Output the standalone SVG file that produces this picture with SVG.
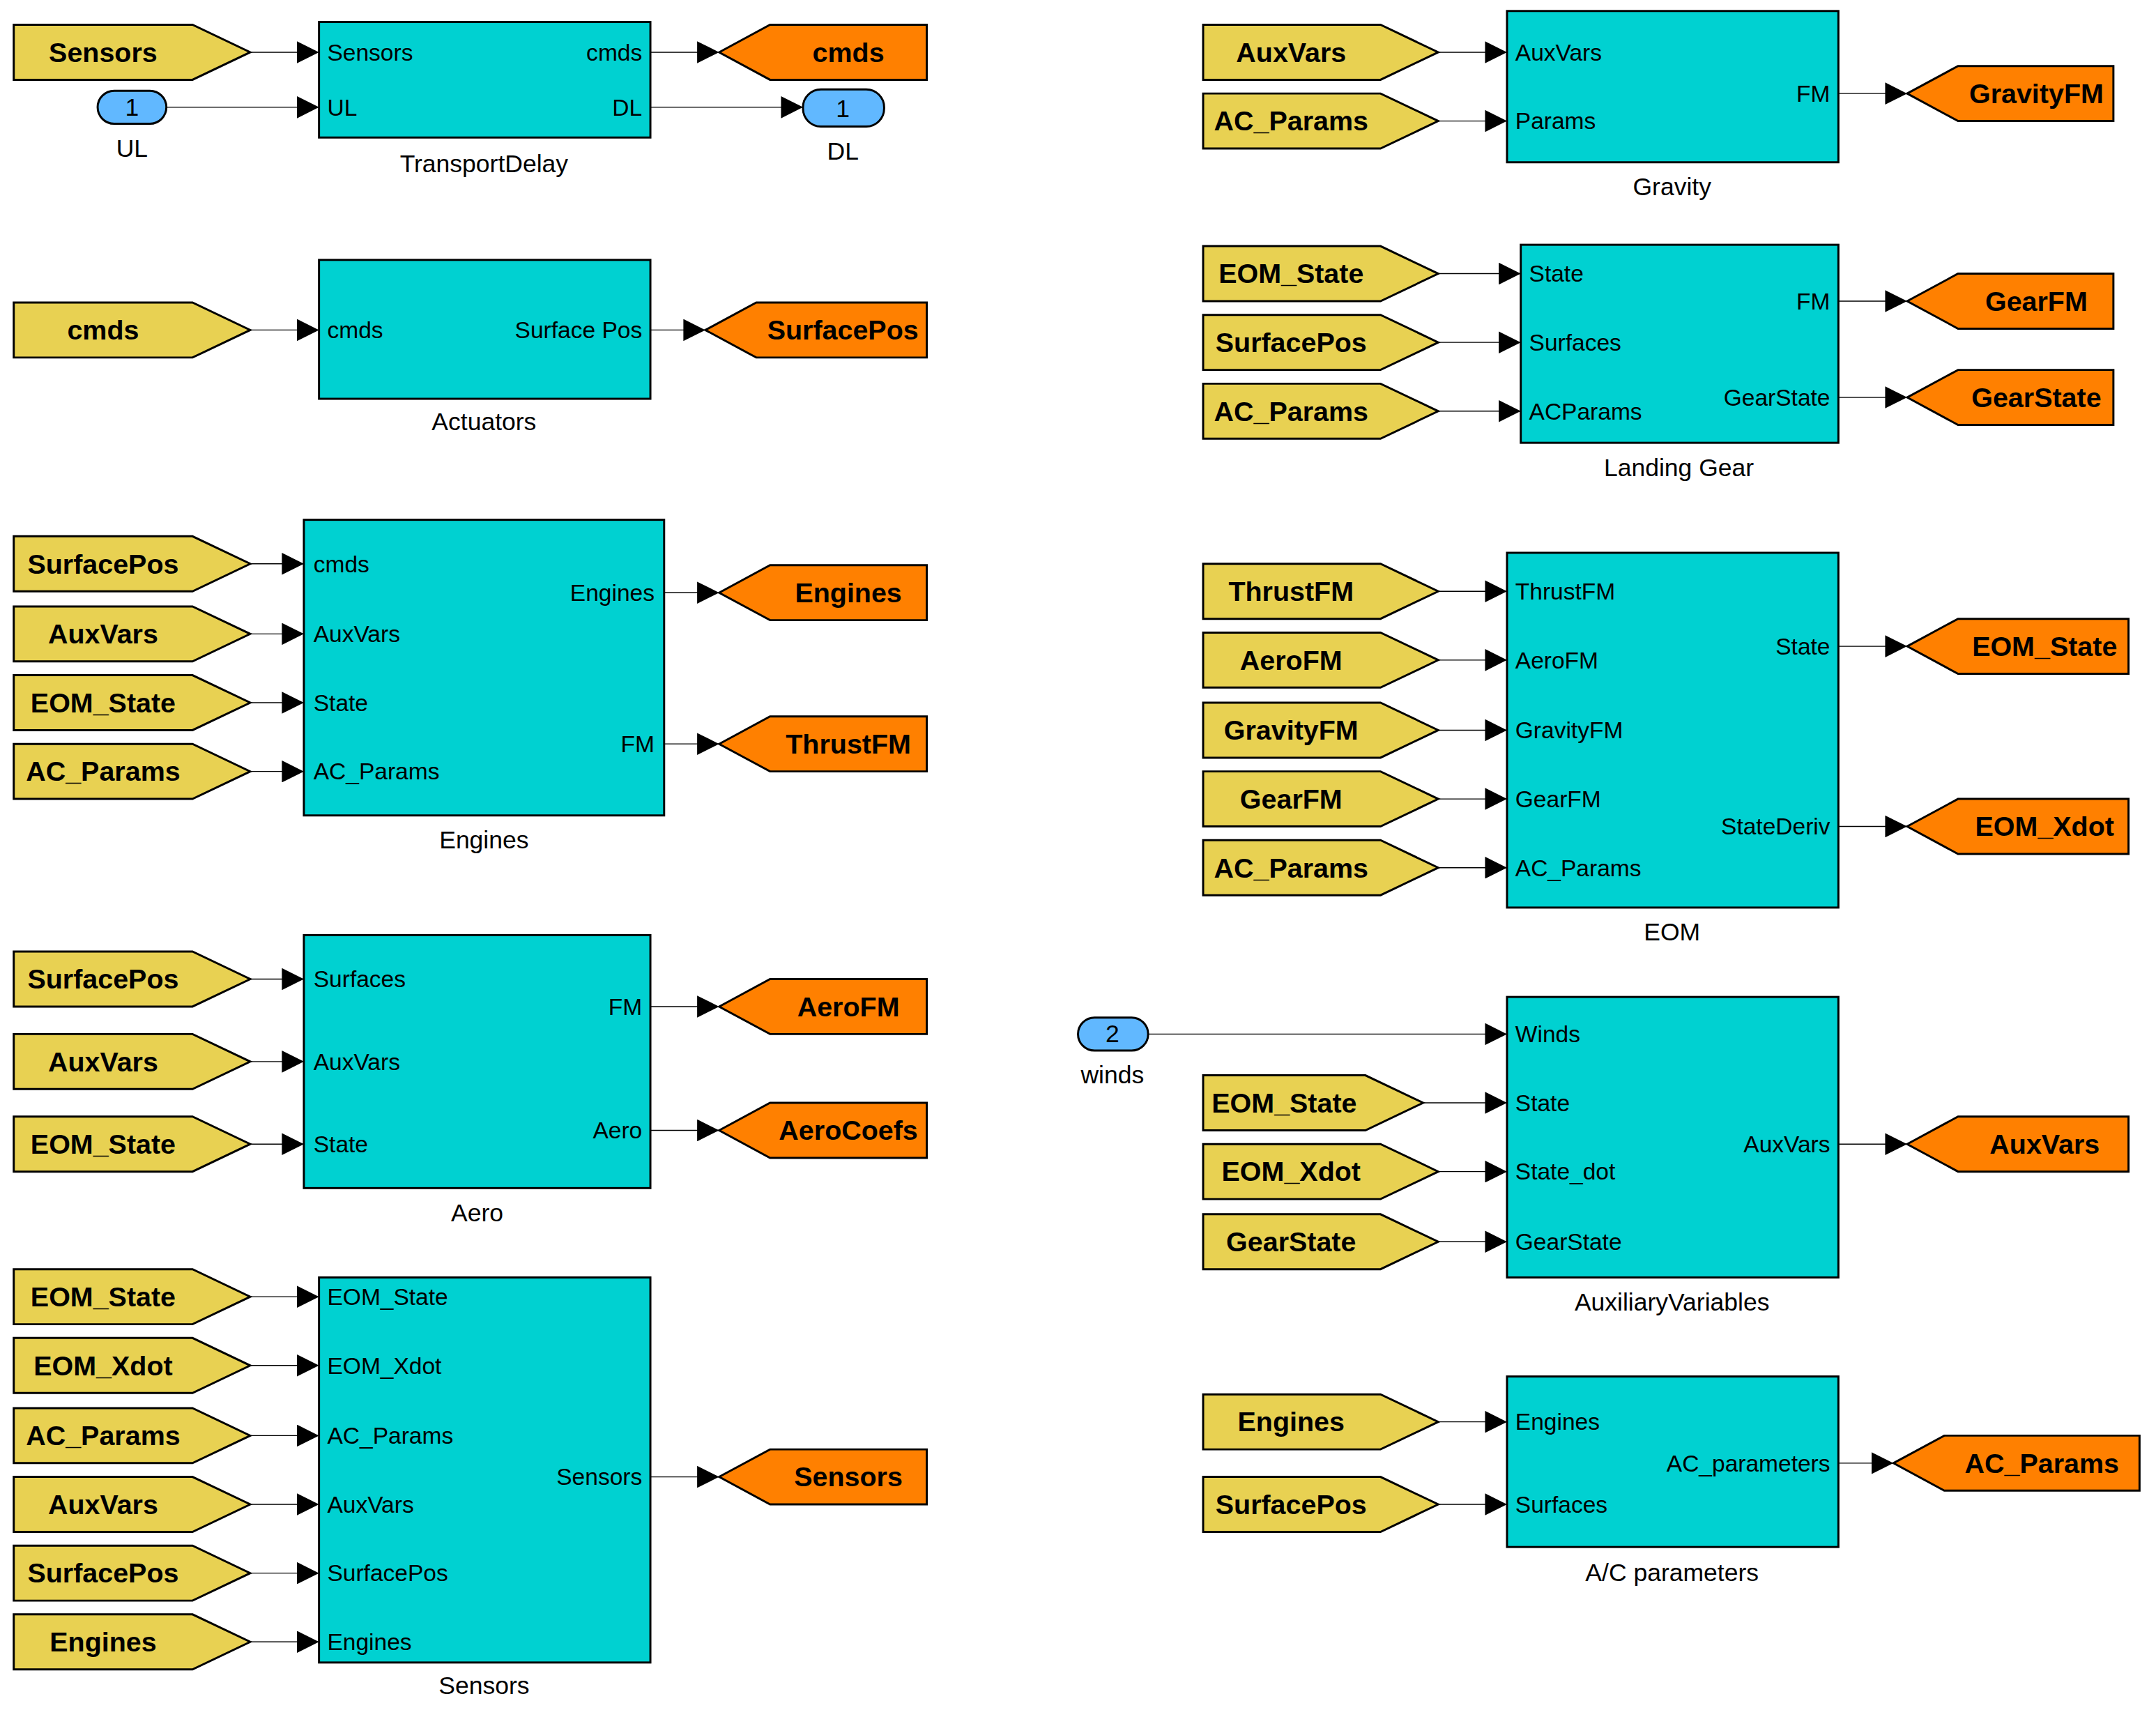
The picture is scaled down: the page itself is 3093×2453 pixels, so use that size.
<svg xmlns="http://www.w3.org/2000/svg" width="3093" height="2453" viewBox="0 0 3093 2453">
<style>
.blk{fill:#00d1d1;stroke:#000;stroke-width:1.5}
.yt{fill:#e8d152;stroke:#000;stroke-width:1.5}
.ot{fill:#ff8000;stroke:#000;stroke-width:1.5}
.ip{fill:#61b8ff;stroke:#000;stroke-width:1.5}
.w{stroke:#000;stroke-width:0.7;fill:none;marker-end:url(#ah)}
text{font-family:"Liberation Sans",Arial,sans-serif;fill:#000}
.pl{font-size:17px}
.pr{font-size:17px;text-anchor:end}
.tg{font-size:20px;font-weight:bold;text-anchor:middle}
.nm{font-size:18px;text-anchor:middle}
.num{font-size:18px;text-anchor:middle}
</style>
<defs>
<marker id="ah" markerUnits="userSpaceOnUse" markerWidth="16" markerHeight="16" viewBox="0 0 16 16" refX="16" refY="8" orient="auto"><path d="M0,0 L16,8 L0,16 Z" fill="#000"/></marker>
</defs>
<rect width="3093" height="2453" fill="#fff"/>
<g transform="scale(1.9726)">
<g id="connectors">
<line class="w" x1="182" y1="38" x2="232" y2="38"/>
<line class="w" x1="121" y1="78" x2="232" y2="78"/>
<line class="w" x1="473" y1="38" x2="523" y2="38"/>
<line class="w" x1="473" y1="78" x2="584" y2="78"/>
<line class="w" x1="182" y1="240" x2="232" y2="240"/>
<line class="w" x1="473" y1="240" x2="513" y2="240"/>
<line class="w" x1="182" y1="410" x2="221" y2="410"/>
<line class="w" x1="182" y1="461" x2="221" y2="461"/>
<line class="w" x1="182" y1="511" x2="221" y2="511"/>
<line class="w" x1="182" y1="561" x2="221" y2="561"/>
<line class="w" x1="483" y1="431" x2="523" y2="431"/>
<line class="w" x1="483" y1="541" x2="523" y2="541"/>
<line class="w" x1="182" y1="712" x2="221" y2="712"/>
<line class="w" x1="182" y1="772" x2="221" y2="772"/>
<line class="w" x1="182" y1="832" x2="221" y2="832"/>
<line class="w" x1="473" y1="732" x2="523" y2="732"/>
<line class="w" x1="473" y1="822" x2="523" y2="822"/>
<line class="w" x1="182" y1="943" x2="232" y2="943"/>
<line class="w" x1="182" y1="993" x2="232" y2="993"/>
<line class="w" x1="182" y1="1044" x2="232" y2="1044"/>
<line class="w" x1="182" y1="1094" x2="232" y2="1094"/>
<line class="w" x1="182" y1="1144" x2="232" y2="1144"/>
<line class="w" x1="182" y1="1194" x2="232" y2="1194"/>
<line class="w" x1="473" y1="1074" x2="523" y2="1074"/>
<line class="w" x1="1046" y1="38" x2="1096" y2="38"/>
<line class="w" x1="1046" y1="88" x2="1096" y2="88"/>
<line class="w" x1="1337" y1="68" x2="1387" y2="68"/>
<line class="w" x1="1046" y1="199" x2="1106" y2="199"/>
<line class="w" x1="1046" y1="249" x2="1106" y2="249"/>
<line class="w" x1="1046" y1="299" x2="1106" y2="299"/>
<line class="w" x1="1337" y1="219" x2="1387" y2="219"/>
<line class="w" x1="1337" y1="289" x2="1387" y2="289"/>
<line class="w" x1="1046" y1="430" x2="1096" y2="430"/>
<line class="w" x1="1046" y1="480" x2="1096" y2="480"/>
<line class="w" x1="1046" y1="531" x2="1096" y2="531"/>
<line class="w" x1="1046" y1="581" x2="1096" y2="581"/>
<line class="w" x1="1046" y1="631" x2="1096" y2="631"/>
<line class="w" x1="1337" y1="470" x2="1387" y2="470"/>
<line class="w" x1="1337" y1="601" x2="1387" y2="601"/>
<line class="w" x1="835" y1="752" x2="1096" y2="752"/>
<line class="w" x1="1035" y1="802" x2="1096" y2="802"/>
<line class="w" x1="1046" y1="852" x2="1096" y2="852"/>
<line class="w" x1="1046" y1="903" x2="1096" y2="903"/>
<line class="w" x1="1337" y1="832" x2="1387" y2="832"/>
<line class="w" x1="1046" y1="1034" x2="1096" y2="1034"/>
<line class="w" x1="1046" y1="1094" x2="1096" y2="1094"/>
<line class="w" x1="1337" y1="1064" x2="1377" y2="1064"/>
</g>

<g id="TransportDelay"><rect class="blk" x="232" y="16" width="241" height="84"/>
<text class="pl" x="238" y="44">Sensors</text><text class="pl" x="238" y="84">UL</text>
<text class="pr" x="467" y="44">cmds</text><text class="pr" x="467" y="84">DL</text>
<text class="nm" x="352" y="125">TransportDelay</text></g>
<g id="from_Sensors_1"><path class="yt" d="M10,18 H140 L182,38 L140,58 H10 Z"/><text class="tg" x="75" y="45">Sensors</text></g>
<g id="in_UL"><rect class="ip" x="71" y="66" width="50" height="24" rx="12"/><text class="num" x="96" y="84">1</text><text class="nm" x="96" y="114">UL</text></g>
<g id="goto_cmds"><path class="ot" d="M523,38 L560,18 H674 V58 H560 Z"/><text class="tg" x="617" y="45">cmds</text></g>
<g id="out_DL"><rect class="ip" x="584" y="65" width="59" height="27" rx="13"/><text class="num" x="613" y="85">1</text><text class="nm" x="613" y="116">DL</text></g>

<g id="Actuators"><rect class="blk" x="232" y="189" width="241" height="101"/>
<text class="pl" x="238" y="246">cmds</text><text class="pr" x="467" y="246">Surface Pos</text>
<text class="nm" x="352" y="313">Actuators</text></g>
<g id="from_cmds"><path class="yt" d="M10,220 H140 L182,240 L140,260 H10 Z"/><text class="tg" x="75" y="247">cmds</text></g>
<g id="goto_SurfacePos"><path class="ot" d="M513,240 L550,220 H674 V260 H550 Z"/><text class="tg" x="613" y="247">SurfacePos</text></g>

<g id="Engines"><rect class="blk" x="221" y="378" width="262" height="215"/>
<text class="pl" x="228" y="416">cmds</text><text class="pl" x="228" y="467">AuxVars</text><text class="pl" x="228" y="517">State</text><text class="pl" x="228" y="567">AC_Params</text>
<text class="pr" x="476" y="437">Engines</text><text class="pr" x="476" y="547">FM</text>
<text class="nm" x="352" y="617">Engines</text></g>
<g id="from_SurfacePos_E"><path class="yt" d="M10,390 H140 L182,410 L140,430 H10 Z"/><text class="tg" x="75" y="417">SurfacePos</text></g>
<g id="from_AuxVars_E"><path class="yt" d="M10,441 H140 L182,461 L140,481 H10 Z"/><text class="tg" x="75" y="468">AuxVars</text></g>
<g id="from_EOM_State_E"><path class="yt" d="M10,491 H140 L182,511 L140,531 H10 Z"/><text class="tg" x="75" y="518">EOM_State</text></g>
<g id="from_AC_Params_E"><path class="yt" d="M10,541 H140 L182,561 L140,581 H10 Z"/><text class="tg" x="75" y="568">AC_Params</text></g>
<g id="goto_Engines"><path class="ot" d="M523,431 L560,411 H674 V451 H560 Z"/><text class="tg" x="617" y="438">Engines</text></g>
<g id="goto_ThrustFM"><path class="ot" d="M523,541 L560,521 H674 V561 H560 Z"/><text class="tg" x="617" y="548">ThrustFM</text></g>

<g id="Aero"><rect class="blk" x="221" y="680" width="252" height="184"/>
<text class="pl" x="228" y="718">Surfaces</text><text class="pl" x="228" y="778">AuxVars</text><text class="pl" x="228" y="838">State</text>
<text class="pr" x="467" y="738">FM</text><text class="pr" x="467" y="828">Aero</text>
<text class="nm" x="347" y="888">Aero</text></g>
<g id="from_SurfacePos_A"><path class="yt" d="M10,692 H140 L182,712 L140,732 H10 Z"/><text class="tg" x="75" y="719">SurfacePos</text></g>
<g id="from_AuxVars_A"><path class="yt" d="M10,752 H140 L182,772 L140,792 H10 Z"/><text class="tg" x="75" y="779">AuxVars</text></g>
<g id="from_EOM_State_A"><path class="yt" d="M10,812 H140 L182,832 L140,852 H10 Z"/><text class="tg" x="75" y="839">EOM_State</text></g>
<g id="goto_AeroFM"><path class="ot" d="M523,732 L560,712 H674 V752 H560 Z"/><text class="tg" x="617" y="739">AeroFM</text></g>
<g id="goto_AeroCoefs"><path class="ot" d="M523,822 L560,802 H674 V842 H560 Z"/><text class="tg" x="617" y="829">AeroCoefs</text></g>

<g id="SensorsBlock"><rect class="blk" x="232" y="929" width="241" height="280"/>
<text class="pl" x="238" y="949">EOM_State</text><text class="pl" x="238" y="999">EOM_Xdot</text><text class="pl" x="238" y="1050">AC_Params</text><text class="pl" x="238" y="1100">AuxVars</text><text class="pl" x="238" y="1150">SurfacePos</text><text class="pl" x="238" y="1200">Engines</text>
<text class="pr" x="467" y="1080">Sensors</text>
<text class="nm" x="352" y="1232">Sensors</text></g>
<g id="from_EOM_State_S"><path class="yt" d="M10,923 H140 L182,943 L140,963 H10 Z"/><text class="tg" x="75" y="950">EOM_State</text></g>
<g id="from_EOM_Xdot_S"><path class="yt" d="M10,973 H140 L182,993 L140,1013 H10 Z"/><text class="tg" x="75" y="1000">EOM_Xdot</text></g>
<g id="from_AC_Params_S"><path class="yt" d="M10,1024 H140 L182,1044 L140,1064 H10 Z"/><text class="tg" x="75" y="1051">AC_Params</text></g>
<g id="from_AuxVars_S"><path class="yt" d="M10,1074 H140 L182,1094 L140,1114 H10 Z"/><text class="tg" x="75" y="1101">AuxVars</text></g>
<g id="from_SurfacePos_S"><path class="yt" d="M10,1124 H140 L182,1144 L140,1164 H10 Z"/><text class="tg" x="75" y="1151">SurfacePos</text></g>
<g id="from_Engines_S"><path class="yt" d="M10,1174 H140 L182,1194 L140,1214 H10 Z"/><text class="tg" x="75" y="1201">Engines</text></g>
<g id="goto_Sensors"><path class="ot" d="M523,1074 L560,1054 H674 V1094 H560 Z"/><text class="tg" x="617" y="1081">Sensors</text></g>

<g id="Gravity"><rect class="blk" x="1096" y="8" width="241" height="110"/>
<text class="pl" x="1102" y="44">AuxVars</text><text class="pl" x="1102" y="94">Params</text>
<text class="pr" x="1331" y="74">FM</text>
<text class="nm" x="1216" y="142">Gravity</text></g>
<g id="from_AuxVars_G"><path class="yt" d="M875,18 H1004 L1046,38 L1004,58 H875 Z"/><text class="tg" x="939" y="45">AuxVars</text></g>
<g id="from_AC_Params_G"><path class="yt" d="M875,68 H1004 L1046,88 L1004,108 H875 Z"/><text class="tg" x="939" y="95">AC_Params</text></g>
<g id="goto_GravityFM"><path class="ot" d="M1387,68 L1424,48 H1537 V88 H1424 Z"/><text class="tg" x="1481" y="75">GravityFM</text></g>

<g id="LandingGear"><rect class="blk" x="1106" y="178" width="231" height="144"/>
<text class="pl" x="1112" y="205">State</text><text class="pl" x="1112" y="255">Surfaces</text><text class="pl" x="1112" y="305">ACParams</text>
<text class="pr" x="1331" y="225">FM</text><text class="pr" x="1331" y="295">GearState</text>
<text class="nm" x="1221" y="346">Landing Gear</text></g>
<g id="from_EOM_State_L"><path class="yt" d="M875,179 H1004 L1046,199 L1004,219 H875 Z"/><text class="tg" x="939" y="206">EOM_State</text></g>
<g id="from_SurfacePos_L"><path class="yt" d="M875,229 H1004 L1046,249 L1004,269 H875 Z"/><text class="tg" x="939" y="256">SurfacePos</text></g>
<g id="from_AC_Params_L"><path class="yt" d="M875,279 H1004 L1046,299 L1004,319 H875 Z"/><text class="tg" x="939" y="306">AC_Params</text></g>
<g id="goto_GearFM"><path class="ot" d="M1387,219 L1424,199 H1537 V239 H1424 Z"/><text class="tg" x="1481" y="226">GearFM</text></g>
<g id="goto_GearState"><path class="ot" d="M1387,289 L1424,269 H1537 V309 H1424 Z"/><text class="tg" x="1481" y="296">GearState</text></g>

<g id="EOM"><rect class="blk" x="1096" y="402" width="241" height="258"/>
<text class="pl" x="1102" y="436">ThrustFM</text><text class="pl" x="1102" y="486">AeroFM</text><text class="pl" x="1102" y="537">GravityFM</text><text class="pl" x="1102" y="587">GearFM</text><text class="pl" x="1102" y="637">AC_Params</text>
<text class="pr" x="1331" y="476">State</text><text class="pr" x="1331" y="607">StateDeriv</text>
<text class="nm" x="1216" y="684">EOM</text></g>
<g id="from_ThrustFM"><path class="yt" d="M875,410 H1004 L1046,430 L1004,450 H875 Z"/><text class="tg" x="939" y="437">ThrustFM</text></g>
<g id="from_AeroFM"><path class="yt" d="M875,460 H1004 L1046,480 L1004,500 H875 Z"/><text class="tg" x="939" y="487">AeroFM</text></g>
<g id="from_GravityFM"><path class="yt" d="M875,511 H1004 L1046,531 L1004,551 H875 Z"/><text class="tg" x="939" y="538">GravityFM</text></g>
<g id="from_GearFM"><path class="yt" d="M875,561 H1004 L1046,581 L1004,601 H875 Z"/><text class="tg" x="939" y="588">GearFM</text></g>
<g id="from_AC_Params_EOM"><path class="yt" d="M875,611 H1004 L1046,631 L1004,651 H875 Z"/><text class="tg" x="939" y="638">AC_Params</text></g>
<g id="goto_EOM_State"><path class="ot" d="M1387,470 L1424,450 H1548 V490 H1424 Z"/><text class="tg" x="1487" y="477">EOM_State</text></g>
<g id="goto_EOM_Xdot"><path class="ot" d="M1387,601 L1424,581 H1548 V621 H1424 Z"/><text class="tg" x="1487" y="608">EOM_Xdot</text></g>

<g id="AuxiliaryVariables"><rect class="blk" x="1096" y="725" width="241" height="204"/>
<text class="pl" x="1102" y="758">Winds</text><text class="pl" x="1102" y="808">State</text><text class="pl" x="1102" y="858">State_dot</text><text class="pl" x="1102" y="909">GearState</text>
<text class="pr" x="1331" y="838">AuxVars</text>
<text class="nm" x="1216" y="953">AuxiliaryVariables</text></g>
<g id="in_winds"><rect class="ip" x="784" y="740" width="51" height="24" rx="12"/><text class="num" x="809" y="758">2</text><text class="nm" x="809" y="788">winds</text></g>
<g id="from_EOM_State_X"><path class="yt" d="M875,782 H993 L1035,802 L993,822 H875 Z"/><text class="tg" x="934" y="809">EOM_State</text></g>
<g id="from_EOM_Xdot_X"><path class="yt" d="M875,832 H1004 L1046,852 L1004,872 H875 Z"/><text class="tg" x="939" y="859">EOM_Xdot</text></g>
<g id="from_GearState_X"><path class="yt" d="M875,883 H1004 L1046,903 L1004,923 H875 Z"/><text class="tg" x="939" y="910">GearState</text></g>
<g id="goto_AuxVars"><path class="ot" d="M1387,832 L1424,812 H1548 V852 H1424 Z"/><text class="tg" x="1487" y="839">AuxVars</text></g>

<g id="ACparameters"><rect class="blk" x="1096" y="1001" width="241" height="124"/>
<text class="pl" x="1102" y="1040">Engines</text><text class="pl" x="1102" y="1100">Surfaces</text>
<text class="pr" x="1331" y="1070">AC_parameters</text>
<text class="nm" x="1216" y="1150">A/C parameters</text></g>
<g id="from_Engines_P"><path class="yt" d="M875,1014 H1004 L1046,1034 L1004,1054 H875 Z"/><text class="tg" x="939" y="1041">Engines</text></g>
<g id="from_SurfacePos_P"><path class="yt" d="M875,1074 H1004 L1046,1094 L1004,1114 H875 Z"/><text class="tg" x="939" y="1101">SurfacePos</text></g>
<g id="goto_AC_Params"><path class="ot" d="M1377,1064 L1414,1044 H1556 V1084 H1414 Z"/><text class="tg" x="1485" y="1071">AC_Params</text></g>
</g>
</svg>
